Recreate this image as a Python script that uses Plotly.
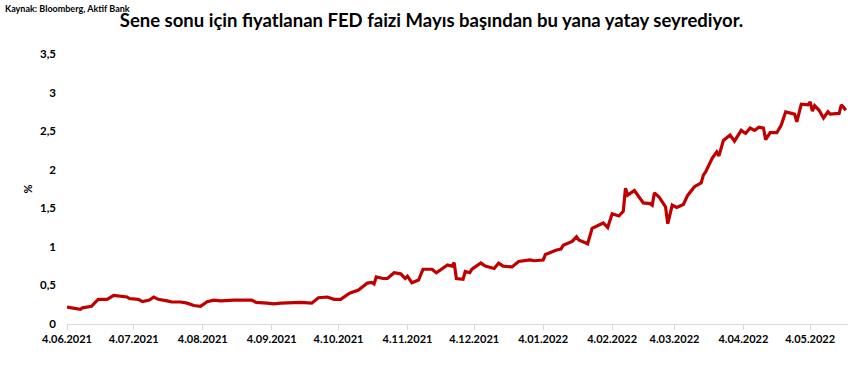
import plotly.graph_objects as go

dates = [
    "2021-06-04", "2021-06-10", "2021-06-11", "2021-06-15", "2021-06-18", "2021-06-22", "2021-06-25",
    "2021-07-01", "2021-07-02", "2021-07-06", "2021-07-08", "2021-07-11", "2021-07-13", "2021-07-15",
    "2021-07-19", "2021-07-21", "2021-07-25", "2021-07-28", "2021-07-31", "2021-08-03", "2021-08-06",
    "2021-08-09", "2021-08-12", "2021-08-18", "2021-08-26", "2021-08-28", "2021-09-02", "2021-09-05",
    "2021-09-08", "2021-09-13", "2021-09-17", "2021-09-22", "2021-09-25", "2021-09-29", "2021-10-02",
    "2021-10-05", "2021-10-09", "2021-10-13", "2021-10-17", "2021-10-19", "2021-10-20", "2021-10-21",
    "2021-10-24", "2021-10-26", "2021-10-29", "2021-11-01", "2021-11-03", "2021-11-04", "2021-11-06",
    "2021-11-09", "2021-11-11", "2021-11-15", "2021-11-17", "2021-11-22", "2021-11-24", "2021-11-25",
    "2021-11-26", "2021-11-29", "2021-11-30", "2021-12-02", "2021-12-03", "2021-12-07", "2021-12-09",
    "2021-12-13", "2021-12-15", "2021-12-17", "2021-12-21", "2021-12-24", "2021-12-29", "2021-12-31",
    "2022-01-04", "2022-01-05", "2022-01-10", "2022-01-12", "2022-01-13", "2022-01-17", "2022-01-19",
    "2022-01-20", "2022-01-24", "2022-01-26", "2022-01-28", "2022-01-31", "2022-02-02", "2022-02-04",
    "2022-02-07", "2022-02-09", "2022-02-10", "2022-02-11", "2022-02-14", "2022-02-18", "2022-02-21",
    "2022-02-22", "2022-02-23", "2022-02-25", "2022-02-28", "2022-03-01", "2022-03-03", "2022-03-05",
    "2022-03-08", "2022-03-10", "2022-03-13", "2022-03-16", "2022-03-17", "2022-03-18", "2022-03-21",
    "2022-03-23", "2022-03-24", "2022-03-26", "2022-03-29", "2022-03-31", "2022-04-03", "2022-04-05",
    "2022-04-07", "2022-04-09", "2022-04-11", "2022-04-13", "2022-04-14", "2022-04-16", "2022-04-19",
    "2022-04-21", "2022-04-23", "2022-04-25", "2022-04-27", "2022-04-28", "2022-04-30", "2022-05-03",
    "2022-05-04", "2022-05-05", "2022-05-06", "2022-05-08", "2022-05-10", "2022-05-12", "2022-05-13",
    "2022-05-17", "2022-05-18", "2022-05-19", "2022-05-20",
]
fed_rate = [
    0.22, 0.19, 0.21, 0.23, 0.32, 0.32, 0.37,
    0.35, 0.33, 0.32, 0.29, 0.31, 0.35, 0.32,
    0.30, 0.285, 0.285, 0.27, 0.24, 0.23, 0.29,
    0.31, 0.30, 0.31, 0.31, 0.28, 0.27, 0.26,
    0.27, 0.28, 0.28, 0.27, 0.34, 0.35, 0.32,
    0.32, 0.40, 0.44, 0.53, 0.54, 0.52, 0.61,
    0.59, 0.59, 0.665, 0.65, 0.59, 0.62, 0.535,
    0.57, 0.71, 0.71, 0.665, 0.765, 0.75, 0.795,
    0.59, 0.58, 0.68, 0.665, 0.71, 0.79, 0.75,
    0.72, 0.79, 0.75, 0.74, 0.81, 0.83, 0.82,
    0.83, 0.90, 0.96, 0.97, 1.02, 1.07, 1.13,
    1.09, 1.04, 1.24, 1.27, 1.31, 1.25, 1.43,
    1.40, 1.46, 1.76, 1.67, 1.73, 1.57, 1.56,
    1.54, 1.70, 1.65, 1.52, 1.30, 1.54, 1.51,
    1.55, 1.67, 1.78, 1.83, 1.93, 1.97, 2.15,
    2.23, 2.18, 2.38, 2.45, 2.37, 2.51, 2.47,
    2.54, 2.51, 2.55, 2.54, 2.39, 2.48, 2.48,
    2.58, 2.75, 2.74, 2.72, 2.62, 2.85, 2.84,
    2.88, 2.76, 2.83, 2.77, 2.67, 2.75, 2.72,
    2.73, 2.84, 2.81, 2.77,
]

x_tickvals = [
    "2021-06-04", "2021-07-04", "2021-08-04", "2021-09-04", "2021-10-04", "2021-11-04",
    "2021-12-04", "2022-01-04", "2022-02-04", "2022-03-04", "2022-04-04", "2022-05-04",
]
x_ticktext = [
    "4.06.2021", "4.07.2021", "4.08.2021", "4.09.2021", "4.10.2021", "4.11.2021",
    "4.12.2021", "4.01.2022", "4.02.2022", "4.03.2022", "4.04.2022", "4.05.2022",
]
y_tickvals = [0, 0.5, 1, 1.5, 2, 2.5, 3, 3.5]

title_text = "Sene sonu için fiyatlanan FED faizi Mayıs başından bu yana yatay seyrediyor."
source_text = "Kaynak: Bloomberg, Aktif Bank"

FONT = "Lato"

fig = go.Figure()
fig.add_trace(go.Scatter(
    x=dates, y=fed_rate, mode="lines",
    line=dict(color="#C00000", width=3.2),
    hoverinfo="skip", showlegend=False,
))

fig.update_layout(
    width=863, height=367,
    margin=dict(l=67, r=15, t=54, b=43),
    paper_bgcolor="white", plot_bgcolor="white",
    separators=",.",
    font=dict(family=FONT, color="#000000"),
    title=dict(
        text="<b>" + title_text + "</b>",
        x=0.5, xanchor="center", xref="container",
        y=0.945, yanchor="middle", yref="container",
        font=dict(family=FONT, size=18.5, color="#000000"),
    ),
    annotations=[dict(
        text="<b>" + source_text + "</b>",
        xref="paper", yref="paper", x=-0.082, y=1.17,
        xanchor="left", yanchor="middle", showarrow=False,
        font=dict(family=FONT, size=9, color="#000000"),
    )],
    xaxis=dict(
        type="date",
        range=["2021-06-04", "2022-05-21"],
        tickvals=x_tickvals, ticktext=x_ticktext,
        showgrid=False, zeroline=False,
        showline=True, linecolor="#D9D9D9", linewidth=1,
        ticks="outside", ticklen=5, tickcolor="#D9D9D9",
        tickfont=dict(family=FONT, size=11, color="#000000", weight="bold"),
    ),
    yaxis=dict(
        range=[0, 3.5],
        tickvals=y_tickvals,
        showgrid=False, zeroline=False, showline=False,
        ticks="", ticklabelstandoff=10,
        tickfont=dict(family=FONT, size=11.5, color="#000000", weight="bold"),
        title=dict(text="<b>%</b>", font=dict(family=FONT, size=11, color="#000000"), standoff=5),
    ),
)

fig.write_html(
    "out.html",
    config={"displayModeBar": False},
    post_script="document.body.style.margin='0';",
)
